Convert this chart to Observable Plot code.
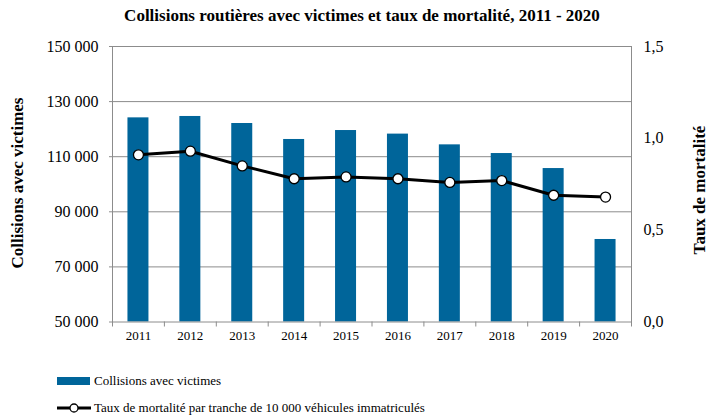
<!DOCTYPE html>
<html><head><meta charset="utf-8">
<script src="https://cdn.jsdelivr.net/npm/d3@7"></script>
<script src="https://cdn.jsdelivr.net/npm/@observablehq/plot@0.6"></script>
<style>
body{margin:0;background:#fff;font-family:"Liberation Serif","DejaVu Serif",serif;}
#wrap{position:relative;width:717px;height:419px;overflow:hidden;}
#wrap > svg{position:absolute;left:0;top:0;}
#wrap svg text{font-family:"Liberation Serif","DejaVu Serif",serif !important;}
.abs{position:absolute;white-space:nowrap;color:#000;font-family:"Liberation Serif","DejaVu Serif",serif;}
#title{left:0;width:724px;top:6px;text-align:center;font-weight:bold;font-size:17px;}
.rot{transform:translate(-50%,-50%) rotate(-90deg);font-weight:bold;font-size:17px;}
.leg{font-size:13px;left:57px;display:flex;align-items:center;}
.leg span{margin-left:3px;}
</style></head>
<body><div id="wrap">
<div id="title" class="abs">Collisions routières avec victimes et taux de mortalité, 2011 - 2020</div>
<div class="abs rot" style="left:18px;top:183px;">Collisions avec victimes</div>
<div class="abs rot" style="left:700px;top:190px;">Taux de mortalité</div>
<div class="abs leg" style="top:373px;"><svg width="34" height="10"><rect x="0" y="1" width="33" height="8" fill="#00659a"/></svg><span>Collisions avec victimes</span></div>
<div class="abs leg" style="top:400px;"><svg width="34" height="12"><line x1="0" x2="34" y1="6" y2="6" stroke="#000" stroke-width="3"/><circle cx="17" cy="6" r="4" fill="#fff" stroke="#000" stroke-width="1.3"/></svg><span>Taux de mortalité par tranche de 10 000 véhicules immatriculés</span></div>
</div>
<script>
const years = [2011, 2012, 2013, 2014, 2015, 2016, 2017, 2018, 2019, 2020];
const collisions = [124100, 124600, 122050, 116250, 119500, 118200, 114300, 111150, 105700, 79950];
const tauxMortalite = [0.91, 0.93, 0.85, 0.78, 0.79, 0.78, 0.76, 0.77, 0.69, 0.68];
const leftTicks = [50000, 70000, 90000, 110000, 130000, 150000];
const rightTicks = [0, 0.5, 1.0, 1.5];

const yMin = 50000, yMax = 150000, rMax = 1.5;
const toY = r => yMin + r / rMax * (yMax - yMin);
const data = years.map((y, i) => ({year: y, n: collisions[i], rate: tauxMortalite[i]}));
const W = 717, H = 419, mL = 112, mR = 86, mT = 46, mB = 97.5;
const step = (W - mL - mR) / years.length;
const barW = 21;
const inset = (step - barW) / 2;
const fmtN = d => d3.format(",")(d).replace(/,/g, " ");
const fmtR = d => d3.format(".1f")(d).replace(".", ",");
const grey = "#8c8c8c";
const serif = '"Liberation Serif","DejaVu Serif",serif';

const chart = Plot.plot({
  width: W, height: H,
  marginLeft: mL, marginRight: mR, marginTop: mT, marginBottom: mB,
  style: {fontFamily: serif, background: "transparent", color: "#000"},
  x: {type: "linear", domain: [years[0] - 0.5, years[years.length - 1] + 0.5]},
  y: {domain: [yMin, yMax]},
  marks: [
    Plot.ruleY(leftTicks.slice(1, -1), {stroke: grey, strokeWidth: 1}),
    Plot.rectY(data, {x1: d => d.year - 0.5, x2: d => d.year + 0.5, y1: yMin, y2: "n", fill: "#00659a", insetLeft: inset, insetRight: inset}),
    Plot.frame({stroke: grey, strokeWidth: 1}),
    Plot.axisY({ticks: leftTicks, tickFormat: fmtN, tickSize: 3, tickPadding: 11, stroke: grey, fontSize: 16, fontFamily: serif, label: null, color: "#000"}),
    Plot.axisY({anchor: "right", ticks: rightTicks.map(toY), tickFormat: v => fmtR((v - yMin) / (yMax - yMin) * rMax), tickSize: 0, tickPadding: 12, fontSize: 16, fontFamily: serif, label: null}),
    Plot.axisX({ticks: d3.range(years.length + 1).map(i => years[0] - 0.5 + i), tickFormat: () => "", tickSize: 5, stroke: grey, label: null}),
    Plot.axisX({ticks: years, tickFormat: d => String(d), tickSize: 0, tickPadding: 9, fontSize: 13, fontFamily: serif, label: null}),
    Plot.line(data, {x: "year", y: d => toY(d.rate), stroke: "#000", strokeWidth: 3}),
    Plot.dot(data, {x: "year", y: d => toY(d.rate), r: 5, fill: "#fff", stroke: "#000", strokeWidth: 1.3})
  ]
});
document.getElementById("wrap").prepend(chart);
</script>
</body></html>
